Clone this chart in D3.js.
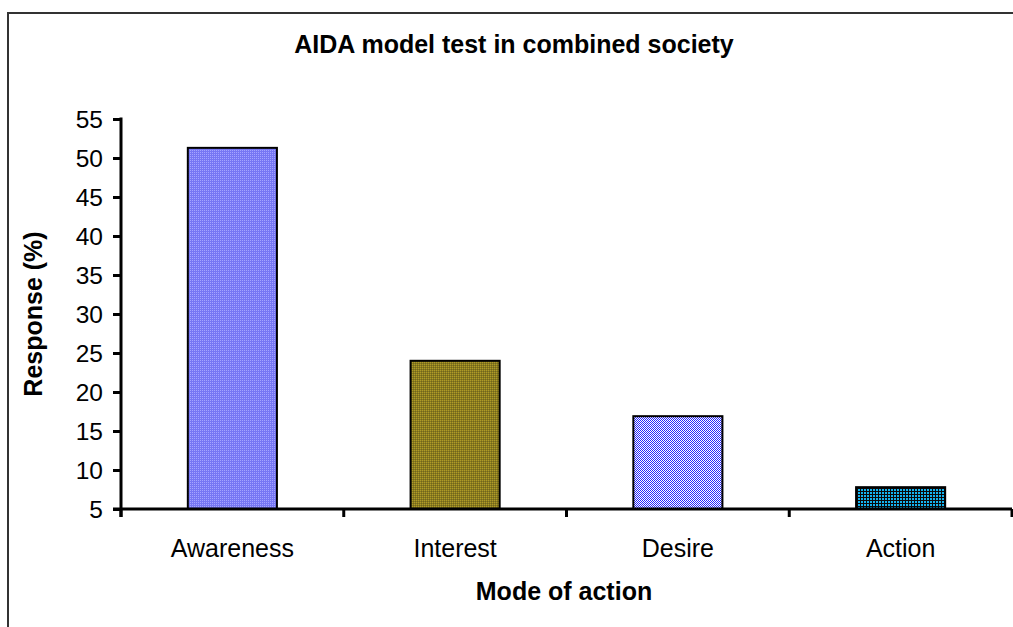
<!DOCTYPE html>
<html><head><meta charset="utf-8">
<script src="https://cdn.jsdelivr.net/npm/d3@7"></script>
<style>body{margin:0;background:#fff}svg{display:block}text{font-family:"Liberation Sans",Arial,sans-serif}</style>
</head><body>
<script>
const categories = ["Awareness","Interest","Desire","Action"];
const values = [51.3, 24.0, 16.9, 7.8];
const yTicks = [5,10,15,20,25,30,35,40,45,50,55];
const title = "AIDA model test in combined society";
const xTitle = "Mode of action";
const yTitle = "Response (%)";

const W=1013,H=627;
const svg=d3.select("body").append("svg").attr("width",W).attr("height",H);
const defs=svg.append("defs");
function pat(id,size,cells){
  const p=defs.append("pattern").attr("id",id).attr("patternUnits","userSpaceOnUse").attr("width",size).attr("height",size);
  cells.forEach(c=>p.append("rect").attr("x",c[0]).attr("y",c[1]).attr("width",c[2]).attr("height",c[3]).attr("fill",c[4]));
}
pat("p0",2,[[0,0,2,2,"#7676f4"],[0,0,1,1,"#a4a4ff"]]);
pat("p1",2,[[0,0,2,2,"#8c7c1c"],[0,0,1,1,"#ad9a2a"],[1,1,1,1,"#6e6420"]]);
pat("p2",2,[[0,0,2,2,"#ffffff"],[0,0,1,1,"#2525ff"],[1,1,1,1,"#2525ff"]]);
pat("p3",3,[[0,0,3,3,"#0a0a0a"],[0,0,2,2,"#14b4f0"]]);

// border
svg.append("path").attr("d","M8,627 V13 H1013").attr("fill","none").attr("stroke","#333").attr("stroke-width",2);

const x=d3.scaleBand().domain(categories).range([121,1012]).paddingInner(0.6).paddingOuter(0.3);
const xb=d3.scaleBand().domain(categories).range([121,1012]);
const y=d3.scaleLinear().domain([5,55]).range([509,119]);

svg.append("text").attr("x",514).attr("y",53).attr("text-anchor","middle").attr("font-weight","bold").attr("font-size",25).text(title);

svg.selectAll(".bar").data(values).enter().append("rect")
  .attr("x",(d,i)=>x(categories[i])).attr("width",x.bandwidth())
  .attr("y",d=>y(d)).attr("height",d=>y(5)-y(d))
  .attr("fill",(d,i)=>`url(#p${i})`).attr("stroke","#000").attr("stroke-width",2);

const ya=svg.append("g").attr("transform","translate(121,0)").call(d3.axisLeft(y).tickValues(yTicks).tickSize(8).tickPadding(8).tickSizeOuter(0));
ya.select(".domain").attr("stroke-width",3).attr("d","M0,117.5V517");
ya.selectAll(".tick line").attr("stroke-width",3);
ya.selectAll("text").attr("font-size",24.5).attr("fill","#000").attr("dy","0.35em").attr("dx","-2");

const xa=svg.append("g").attr("transform","translate(0,509)").call(d3.axisBottom(xb).tickSize(0).tickPadding(29));
xa.select(".domain").attr("stroke-width",3).attr("d","M113,0H1012");
xa.selectAll("text").attr("font-size",25).attr("fill","#000").attr("dy","0.35em").attr("y",39);
const bounds=[121].concat(categories.map(c=>xb(c)+xb.bandwidth()));
xa.selectAll(".bt").data(bounds).enter().append("line").attr("x1",d=>d).attr("x2",d=>d).attr("y1",0).attr("y2",8).attr("stroke","#000").attr("stroke-width",3);

svg.append("text").attr("x",564).attr("y",600).attr("text-anchor","middle").attr("font-weight","bold").attr("font-size",25).text(xTitle);
svg.append("text").attr("transform","translate(42,314) rotate(-90)").attr("text-anchor","middle").attr("font-weight","bold").attr("font-size",25).text(yTitle);
</script>
</body></html>
